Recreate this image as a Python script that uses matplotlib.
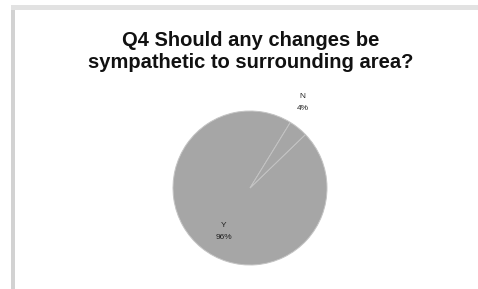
import numpy as np
import matplotlib.pyplot as plt
from matplotlib.patches import Rectangle

# data
categories = ['Y', 'N']
values = [96, 4]
title = 'Q4 Should any changes be\nsympathetic to surrounding area?'

fig = plt.figure(figsize=(4.78, 2.89), dpi=100)
fig.patch.set_facecolor('white')

# frame around the chart (gray lines top & left)
fig.add_artist(Rectangle((11 / 478, 0), 4 / 478, 1 - 5 / 289, transform=fig.transFigure,
                         facecolor='#d2d2d2', edgecolor='none'))
fig.add_artist(Rectangle((11 / 478, 1 - 10 / 289), 1, 5 / 289, transform=fig.transFigure,
                         facecolor='#e2e2e2', edgecolor='none'))

fig.text(251 / 478, 1 - 51 / 289, title, ha='center', va='center', fontsize=14.5,
         fontweight='bold', family='Liberation Sans', linespacing=1.2, color='#111111')

ax = fig.add_axes([173 / 478, 24 / 289, 154 / 478, 154 / 289])
wedges, _ = ax.pie(values, startangle=44, counterclock=False, radius=1,
                   colors=['#a6a6a6', '#a6a6a6'],
                   wedgeprops=dict(edgecolor='#c4c4c4', linewidth=0.7))
ax.set_xlim(-1, 1)
ax.set_ylim(-1, 1)
ax.set_aspect('equal')
ax.axis('off')

# labels
for w, c, v in zip(wedges, categories, values):
    if c == 'N':
        ang, d = np.deg2rad(w.theta2), 1.3
    else:
        ang, d = np.deg2rad((w.theta1 + w.theta2) / 2 + 8), 0.66
    ax.text(d * np.cos(ang), d * np.sin(ang), f'{c}\n{v}%', ha='center', va='center',
            fontsize=6, family='Liberation Sans', linespacing=2.0, color='#222222',
            clip_on=False)

fig.savefig('out.png', dpi=100, facecolor='white')
